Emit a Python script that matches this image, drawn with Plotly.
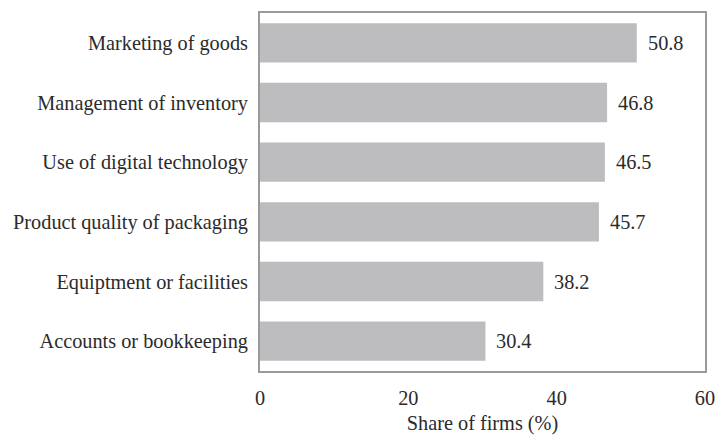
import plotly.graph_objects as go

categories = [
    "Marketing of goods",
    "Management of inventory",
    "Use of digital technology",
    "Product quality of packaging",
    "Equiptment or facilities",
    "Accounts or bookkeeping",
]
shares = [50.8, 46.8, 46.5, 45.7, 38.2, 30.4]
x_ticks = [0, 20, 40, 60]

font_family = "Liberation Serif"
text_color = "#2b2b2b"
font_size = 20.3

fig = go.Figure(
    go.Bar(
        x=shares,
        y=categories,
        orientation="h",
        marker=dict(color="#bdbdc0", line=dict(width=0)),
        width=0.66,
        hoverinfo="x+y",
    )
)

# value labels placed just beyond each bar end
for cat, val in zip(categories, shares):
    fig.add_annotation(
        x=val, y=cat, text=f"{val:.1f}", showarrow=False,
        xanchor="left", xshift=9, yanchor="middle",
        font=dict(family=font_family, size=font_size, color=text_color),
    )

fig.update_layout(
    width=715, height=435,
    margin=dict(l=260, r=10, t=13, b=64),
    paper_bgcolor="white", plot_bgcolor="white",
    showlegend=False,
    font=dict(family=font_family, size=font_size, color=text_color),
)
fig.update_xaxes(
    range=[0, 60], tickvals=x_ticks, ticks="", showgrid=False, zeroline=False,
    showline=True, linecolor="#9a9a9a", linewidth=2, mirror=True,
    automargin=False, ticklabelstandoff=8, ticklabeloverflow="allow",
    title=dict(text="Share of firms (%)", standoff=14,
               font=dict(family=font_family, size=font_size, color=text_color)),
    tickfont=dict(family=font_family, size=font_size, color=text_color),
)
fig.update_yaxes(
    categoryorder="array", categoryarray=categories, autorange="reversed",
    ticks="", showgrid=False, zeroline=False,
    showline=True, linecolor="#9a9a9a", linewidth=2, mirror=True,
    automargin=False, ticklabelstandoff=6, ticklabeloverflow="allow",
    tickfont=dict(family=font_family, size=font_size, color=text_color),
)

fig.write_html("out.html")
